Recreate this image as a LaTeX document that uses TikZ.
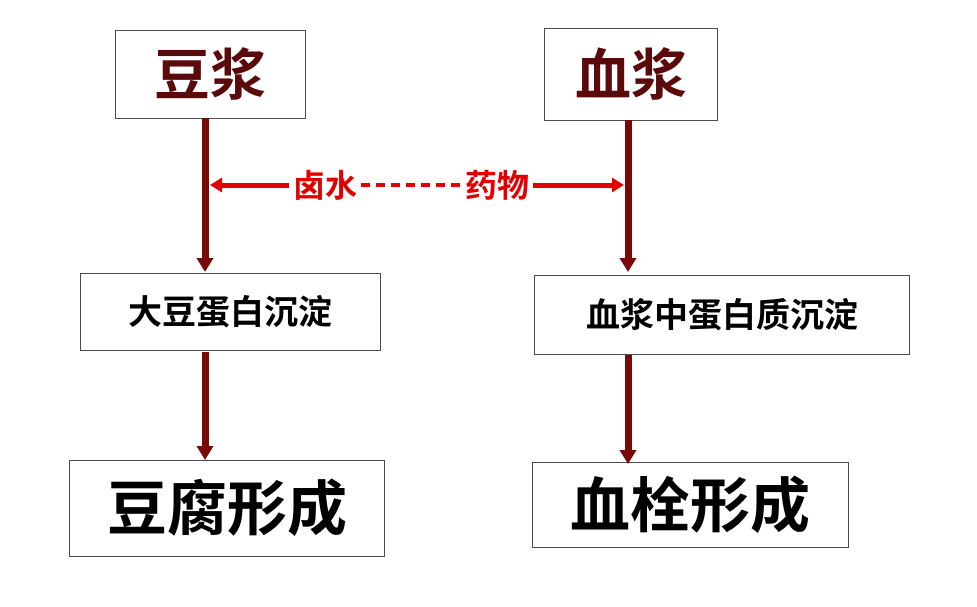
\documentclass[tikz,border=0pt]{standalone}
\usepackage{fontspec}
\setmainfont{Noto Sans CJK SC}[BoldFont={Noto Sans CJK SC Bold}]
\usetikzlibrary{arrows.meta}
\definecolor{dred}{HTML}{5A0A0A}
\definecolor{bred}{HTML}{E00000}
\begin{document}
\begin{tikzpicture}[x=1pt,y=-1pt,
 box/.style={draw=black!70,line width=0.8pt,inner sep=0},
 flow/.style={draw=dred!80!red,line width=7pt,-{Triangle[length=14pt,width=16pt]}},
 lbl/.style={text=bred,font=\bfseries\fontsize{32}{32}\selectfont}]
\useasboundingbox (0,0) rectangle (977,607);
\node[box,minimum width=190,minimum height=88] (a) at (210,74) {\textcolor{dred}{\bfseries\fontsize{56}{56}\selectfont 豆浆}};
\node[box,minimum width=173,minimum height=92] (b) at (631,74) {\textcolor{dred}{\bfseries\fontsize{56}{56}\selectfont 血浆}};
\node[box,minimum width=300,minimum height=77] (c) at (230,312) {\bfseries\fontsize{34}{34}\selectfont 大豆蛋白沉淀};
\node[box,minimum width=375,minimum height=79] (d) at (722,315) {\bfseries\fontsize{34}{34}\selectfont 血浆中蛋白质沉淀};
\node[box,minimum width=315,minimum height=96] (e) at (227,508) {\bfseries\fontsize{60}{60}\selectfont 豆腐形成};
\node[box,minimum width=316,minimum height=85] (f) at (690,505) {\bfseries\fontsize{60}{60}\selectfont 血栓形成};
\draw[flow] (205,118) -- (205,272);
\draw[flow] (205,352) -- (205,460);
\draw[flow] (628,120) -- (628,272);
\draw[flow] (628,355) -- (628,464);
\node[lbl] (l1) at (325,185) {卤水};
\node[lbl] (l2) at (497,185) {药物};
\coordinate (p) at (210,185);
\coordinate (q) at (624,185);
\draw[bred,line width=5pt,{Triangle[length=12pt,width=14pt]}-] (p) -- (l1.west);
\draw[bred,line width=5pt,-{Triangle[length=12pt,width=14pt]}] (l2.east) -- (q);
\draw[bred,line width=3.5pt,dash pattern=on 9pt off 6pt] (l1.east) -- (l2.west);
\end{tikzpicture}
\end{document}
